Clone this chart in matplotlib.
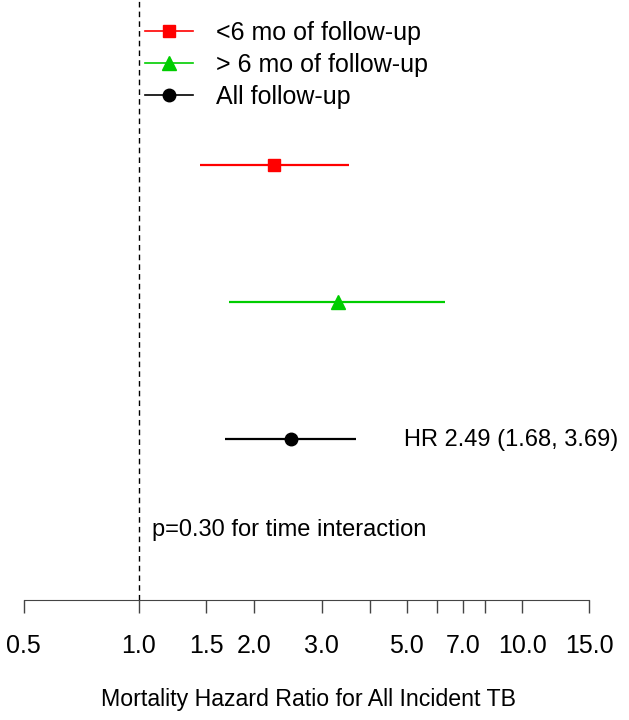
import matplotlib
matplotlib.use('Agg')
import matplotlib.pyplot as plt
from matplotlib.lines import Line2D

plt.rcParams['font.family'] = ['Liberation Sans', 'DejaVu Sans']

# data
groups = ['<6 mo of follow-up', '> 6 mo of follow-up', 'All follow-up']
hr = [2.25, 3.31, 2.49]
lower = [1.44, 1.72, 1.68]
upper = [3.53, 6.29, 3.69]
rows = [3, 2, 1]
colors = ['#ff0000', '#00cd00', '#000000']
markers = ['s', '^', 'o']
msizes = [9, 10, 9]

tick_vals = [0.5, 1, 1.5, 2, 3, 4, 5, 6, 7, 8, 10, 15]
tick_labels = ['0.5', '1.0', '1.5', '2.0', '3.0', '', '5.0', '', '7.0', '', '10.0', '15.0']

fig = plt.figure(figsize=(6.29, 7.2), dpi=100)
ax = fig.add_axes([23.5 / 629, 120 / 720, 566 / 629, 600 / 720])
ax.set_xscale('log')
ax.set_xlim(0.5, 15)
ax.set_ylim(-0.175, 4.204)

# reference line at HR = 1
ax.axvline(1, color='black', lw=1, ls=(0, (4, 3)), zorder=1)

handles = []
for g, h, lo, hi, y, c, m, ms in zip(groups, hr, lower, upper, rows, colors, markers, msizes):
    ax.plot([lo, hi], [y, y], color=c, lw=1.6, solid_capstyle='butt', zorder=2)
    ax.plot([h], [y], marker=m, color=c, ms=ms, ls='none', zorder=3)
    handles.append(Line2D([0], [0], color=c, lw=1.2, marker=m, ms=ms, label=g))

ax.text(4.93, 0.99, 'HR 2.49 (1.68, 3.69)', ha='left', va='center', fontsize=17)
ax.text(1.08, 0.336, 'p=0.30 for time interaction', ha='left', va='center', fontsize=17)

leg = ax.legend(handles=handles, loc='upper left', bbox_to_anchor=(145 / 629, 1 - 21 / 720),
                bbox_transform=fig.transFigure, frameon=False, fontsize=18,
                handlelength=1.9, handletextpad=0.95, labelspacing=0.32,
                borderpad=0, borderaxespad=0)

for s in ['top', 'right', 'left']:
    ax.spines[s].set_visible(False)
ax.spines['bottom'].set_color('#444444')
ax.spines['bottom'].set_bounds(0.5, 15)
ax.set_yticks([])
ax.minorticks_off()
ax.set_xticks(tick_vals)
ax.set_xticklabels(tick_labels)
ax.tick_params(axis='x', which='major', length=9.5, width=1, color='#444444',
               labelsize=18, pad=15)
ax.tick_params(axis='x', which='minor', length=0)

ax.set_xlabel('Mortality Hazard Ratio for All Incident TB', fontsize=16.7)
ax.xaxis.set_label_coords(0.504, -0.166)
ax.xaxis.label.set_va('center')

fig.savefig('out.png', dpi=100)
